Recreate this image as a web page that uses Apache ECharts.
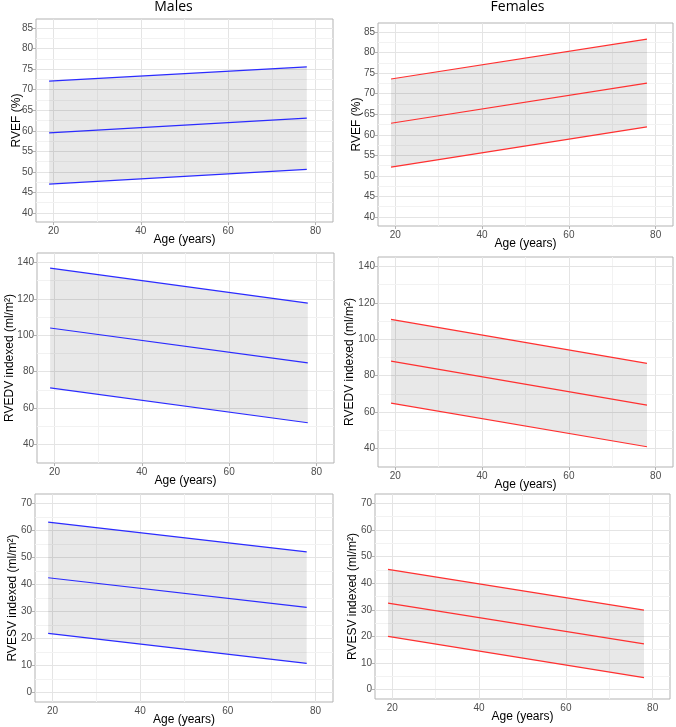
<!DOCTYPE html>
<html>
<head>
<meta charset="utf-8">
<script src="https://cdn.jsdelivr.net/npm/echarts@6/dist/echarts.min.js"></script>
<style>
  html, body { margin: 0; padding: 0; background: #fff; }
  #chart { width: 676px; height: 727px; }
</style>
</head>
<body>
<div id="chart"></div>
<script>
//data
const ages = [19, 78];

const maleRvefLow = [47.0, 50.6];
const maleRvefMid = [59.5, 63.1];
const maleRvefUp = [72.1, 75.6];
const femaleRvefLow = [52.1, 61.9];
const femaleRvefMid = [62.8, 72.6];
const femaleRvefUp = [73.6, 83.3];

const maleRvedvLow = [71.1, 51.9];
const maleRvedvMid = [104.0, 84.8];
const maleRvedvUp = [136.9, 117.7];
const femaleRvedvLow = [64.9, 40.9];
const femaleRvedvMid = [88.0, 63.8];
const femaleRvedvUp = [110.9, 86.7];

const maleRvesvLow = [21.9, 10.8];
const maleRvesvMid = [42.5, 31.5];
const maleRvesvUp = [63.1, 52.1];
const femaleRvesvLow = [20.0, 4.5];
const femaleRvesvMid = [32.5, 17.2];
const femaleRvesvUp = [45.2, 29.9];

//tick labels
const ageTicks = [20, 40, 60, 80];
const ageMinor = [30, 50, 70];
const rvefTicks = [40, 45, 50, 55, 60, 65, 70, 75, 80, 85];
const rvefMinor = [42.5, 47.5, 52.5, 57.5, 62.5, 67.5, 72.5, 77.5, 82.5];
const rvedvTicks = [40, 60, 80, 100, 120, 140];
const rvedvMinor = [50, 70, 90, 110, 130];
const rvesvTicks = [0, 10, 20, 30, 40, 50, 60, 70];
const rvesvMinor = [5, 15, 25, 35, 45, 55, 65];

const blue = '#2b2bff';
const red = '#ff3030';
const font = '"Liberation Sans", Arial, sans-serif';

// panel boxes (px)
const boxes = [
    {left: 36, top: 19, width: 297, height: 203, gap: 13},
    {left: 378, top: 23, width: 295, height: 203, gap: 15},
    {left: 37, top: 253, width: 297, height: 210, gap: 21},
    {left: 378, top: 257, width: 295, height: 210, gap: 22},
    {left: 35, top: 494, width: 298, height: 208, gap: 16},
    {left: 375, top: 494, width: 295, height: 205, gap: 16}
];

const panels = [
    {lo: maleRvefLow, mid: maleRvefMid, up: maleRvefUp, color: blue, yMin: 37.75, yMax: 87.25, yTicks: rvefTicks, yMinor: rvefMinor, yName: 'RVEF (%)'},
    {lo: femaleRvefLow, mid: femaleRvefMid, up: femaleRvefUp, color: red, yMin: 37.75, yMax: 87.25, yTicks: rvefTicks, yMinor: rvefMinor, yName: 'RVEF (%)'},
    {lo: maleRvedvLow, mid: maleRvedvMid, up: maleRvedvUp, color: blue, yMin: 29.75, yMax: 145.25, yTicks: rvedvTicks, yMinor: rvedvMinor, yName: 'RVEDV indexed (ml/m²)'},
    {lo: femaleRvedvLow, mid: femaleRvedvMid, up: femaleRvedvUp, color: red, yMin: 29.75, yMax: 145.25, yTicks: rvedvTicks, yMinor: rvedvMinor, yName: 'RVEDV indexed (ml/m²)'},
    {lo: maleRvesvLow, mid: maleRvesvMid, up: maleRvesvUp, color: blue, yMin: -3.5, yMax: 73.5, yTicks: rvesvTicks, yMinor: rvesvMinor, yName: 'RVESV indexed (ml/m²)'},
    {lo: femaleRvesvLow, mid: femaleRvesvMid, up: femaleRvesvUp, color: red, yMin: -3.5, yMax: 73.5, yTicks: rvesvTicks, yMinor: rvesvMinor, yName: 'RVESV indexed (ml/m²)'}
];

function bandItem(lo, up) {
    return function (params, api) {
        if (params.dataIndex !== 0) return null;
        let pts = [];
        for (let i = 0; i < ages.length; i++) pts.push(api.coord([ages[i], up[i]]));
        for (let i = ages.length - 1; i >= 0; i--) pts.push(api.coord([ages[i], lo[i]]));
        return {type: 'polygon', shape: {points: pts}, style: {fill: 'rgba(0,0,0,0.09)'}};
    };
}

function gridLines(p) {
    let major = {color: '#e4e4e4', width: 1, type: 'solid'};
    let minor = {color: '#f2f2f2', width: 1, type: 'solid'};
    let out = [];
    ageTicks.forEach(v => out.push({xAxis: v, lineStyle: major}));
    ageMinor.forEach(v => out.push({xAxis: v, lineStyle: minor}));
    p.yTicks.forEach(v => out.push({yAxis: v, lineStyle: major}));
    p.yMinor.forEach(v => out.push({yAxis: v, lineStyle: minor}));
    return out;
}

let grid = [], xAxis = [], yAxis = [], series = [];

panels.forEach(function (p, i) {
    let b = boxes[i];
    grid.push({left: b.left, top: b.top, width: b.width, height: b.height,
        show: true, borderColor: '#b3b3b3', borderWidth: 1, backgroundColor: '#fff'});
    xAxis.push({
        type: 'value', gridIndex: i, min: 16, max: 84,
        name: 'Age (years)', nameLocation: 'middle', nameGap: 12, nameMoveOverlap: false,
        nameTextStyle: {fontFamily: font, fontSize: 12, color: '#000'},
        axisLine: {show: false},
        axisTick: {show: true, length: 3, lineStyle: {color: '#b3b3b3'}, customValues: ageTicks},
        axisLabel: {fontFamily: font, fontSize: 10, color: '#4d4d4d', margin: 4, customValues: ageTicks},
        splitLine: {show: false}
    });
    yAxis.push({
        type: 'value', gridIndex: i, min: p.yMin, max: p.yMax,
        name: p.yName, nameLocation: 'middle', nameGap: b.gap, nameMoveOverlap: false,
        nameTextStyle: {fontFamily: font, fontSize: 12, color: '#000'},
        axisLine: {show: false},
        axisTick: {show: true, length: 3, lineStyle: {color: '#b3b3b3'}, customValues: p.yTicks},
        axisLabel: {fontFamily: font, fontSize: 10, color: '#4d4d4d', margin: 3, customValues: p.yTicks},
        splitLine: {show: false}
    });
    series.push({
        type: 'line', xAxisIndex: i, yAxisIndex: i, data: [], z: 1, silent: true,
        markLine: {z: 1, silent: true, symbol: 'none', animation: false, label: {show: false}, data: gridLines(p)}
    });
    series.push({
        type: 'custom', xAxisIndex: i, yAxisIndex: i, z: 2, silent: true,
        data: ages.map((a, k) => [a, p.lo[k], p.up[k]]),
        encode: {x: 0, y: [1, 2]},
        renderItem: bandItem(p.lo, p.up)
    });
    [p.lo, p.mid, p.up].forEach(function (arr) {
        series.push({
            type: 'line', xAxisIndex: i, yAxisIndex: i, z: 3, silent: true,
            showSymbol: false, symbol: 'none',
            lineStyle: {color: p.color, width: 1.2},
            data: ages.map((a, k) => [a, arr[k]])
        });
    });
});

let chart = echarts.init(document.getElementById('chart'));

chart.setOption({
    animation: false,
    backgroundColor: '#fff',
    graphic: [
        {type: 'text', x: 173.5, y: 7, style: {text: 'Males', font: '14px "Open Sans", sans-serif', fill: '#000', align: 'center', verticalAlign: 'middle'}},
        {type: 'text', x: 517.5, y: 7, style: {text: 'Females', font: '14px "Open Sans", sans-serif', fill: '#000', align: 'center', verticalAlign: 'middle'}}
    ],
    grid: grid,
    xAxis: xAxis,
    yAxis: yAxis,
    series: series
});
</script>
</body>
</html>
